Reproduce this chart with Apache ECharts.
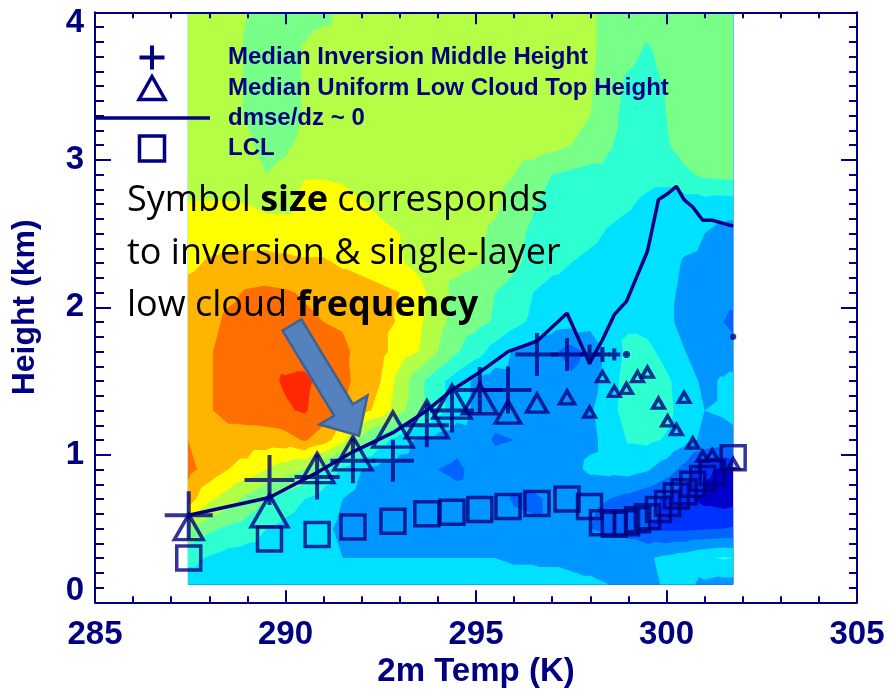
<!DOCTYPE html>
<html>
<head>
<meta charset="utf-8">
<script src="https://cdn.jsdelivr.net/npm/echarts@6/dist/echarts.min.js"></script>
<style>
  html, body { margin: 0; padding: 0; background: #ffffff; }
  #chart { width: 889px; height: 693px; }
</style>
</head>
<body>
<div id="chart"></div>
<script>
// ---------------------------------------------------------------------------
// Median profile statistics, binned by 2 m temperature (K)
// ---------------------------------------------------------------------------
const tempBins = [287.46, 289.58, 290.83, 291.77, 292.82, 293.71, 294.37, 295.10, 295.84, 296.60,
                  297.39, 297.98, 298.32, 298.63, 298.95, 299.24, 299.50, 299.79, 300.03, 300.26,
                  300.46, 300.69, 300.95, 301.20, 301.75];

// median inversion middle height (km) and inversion frequency (%)
const invHeight = [0.59, 0.83, 0.85, 0.96, 0.96, 1.20, 1.30, 1.44, 1.44, 1.68,
                   1.68, 1.68, 1.68, 1.68, 1.68, null, null, null, null, null,
                   null, null, null, null, 1.80];
const invFreq   = [43, 45, 40, 40, 37, 39, 39, 41, 42, 38,
                   28, 15, 10, 7, 2, null, null, null, null, null,
                   null, null, null, null, 1];

// median uniform (single-layer) low cloud top height (km) and its frequency (%)
const cloudTop  = [0.51, 0.62, 0.91, 1.01, 1.17, 1.24, 1.36, 1.38, 1.29, 1.35,
                   1.39, 1.29, 1.53, 1.43, 1.45, 1.53, 1.56, 1.35, 1.23, 1.17,
                   1.39, 1.08, 0.99, 1.00, 0.94];
const cloudFreq = [20, 27, 24, 28, 30, 32, 28, 25, 17, 13,
                   8, 5, 5, 5, 5, 5, 5, 5, 5, 5,
                   5, 5, 5, 5, 5];

// height where dmse/dz ~ 0 (km)
const dmseZero  = [0.59, 0.71, 0.88, 1.02, 1.15, 1.30, 1.44, 1.56, 1.70, 1.77,
                   1.96, 1.62, 1.78, 1.95, 2.04, 2.22, 2.38, 2.73, 2.77, 2.82,
                   2.73, 2.68, 2.59, 2.59, 2.55];

// lifting condensation level (km)
const lclHeight = [0.30, 0.43, 0.46, 0.51, 0.55, 0.60, 0.61, 0.63, 0.65, 0.67,
                   0.70, 0.65, 0.54, 0.53, 0.54, 0.56, 0.58, 0.63, 0.67, 0.72,
                   0.75, 0.80, 0.84, 0.88, 0.98];

// ---------------------------------------------------------------------------
// Background field (contour level index) on a temperature x height grid
// ---------------------------------------------------------------------------
const gridTemp = [287.44, 288.0, 288.5, 289.0, 289.5, 290.0, 290.5, 291.0, 291.5, 292.0,
                  292.5, 293.0, 293.5, 294.0, 294.5, 295.0, 295.5, 296.0, 296.5, 297.0,
                  297.5, 298.0, 298.5, 299.0, 299.5, 300.0, 300.5, 301.0, 301.5, 301.75];
const gridHeight = [4.0, 3.75, 3.5, 3.3, 3.1, 2.9, 2.7, 2.5, 2.3, 2.1,
                    1.9, 1.7, 1.5, 1.3, 1.1, 0.9, 0.7, 0.5, 0.3, 0.12];
const fieldLevels = [
  [7.5, 7.5, 7.3, 7.0, 6.5, 6.5, 6.5, 6.7, 7.3, 7.5, 7.5, 7.5, 7.5, 7.5, 7.5, 7.5, 7.5, 7.5, 7.5, 7.5, 7.4, 7.2, 6.6, 6.5, 6.5, 6.5, 6.6, 6.7, 6.5, 6.5],
  [7.5, 7.5, 7.3, 6.9, 6.5, 6.5, 7.1, 7.5, 7.5, 7.5, 7.5, 7.5, 7.5, 7.5, 7.5, 7.5, 7.5, 7.5, 7.5, 7.5, 7.4, 7.2, 6.6, 6.3, 5.9, 6.3, 6.6, 6.7, 6.5, 6.5],
  [7.5, 7.5, 7.3, 6.9, 6.5, 6.5, 7.1, 7.5, 7.5, 7.5, 7.5, 7.5, 7.5, 7.5, 7.5, 7.5, 7.5, 7.5, 7.5, 7.5, 7.4, 7.1, 6.5, 5.8, 5.5, 6.1, 6.6, 6.7, 6.5, 6.5],
  [7.5, 7.5, 7.3, 6.9, 6.4, 6.5, 7.1, 7.5, 7.5, 7.5, 7.5, 7.5, 7.5, 7.5, 7.5, 7.5, 7.5, 7.5, 7.5, 7.5, 7.3, 7.0, 6.4, 5.6, 5.5, 6.0, 6.6, 6.7, 6.5, 6.5],
  [7.5, 7.5, 7.4, 7.2, 6.6, 6.8, 7.3, 7.5, 7.5, 7.5, 7.5, 7.5, 7.5, 7.5, 7.5, 7.5, 7.5, 7.5, 7.5, 7.3, 7.0, 6.7, 6.1, 5.5, 5.5, 5.9, 6.5, 6.6, 6.5, 6.5],
  [7.6, 7.6, 7.6, 7.4, 7.0, 7.3, 7.9, 7.9, 7.8, 7.6, 7.5, 7.5, 7.5, 7.5, 7.5, 7.4, 7.3, 7.0, 6.5, 6.0, 5.8, 5.6, 5.6, 5.5, 5.3, 5.3, 5.8, 6.2, 6.3, 6.3],
  [8.05, 8.05, 8.05, 8.0, 7.7, 7.7, 8.4, 8.5, 8.4, 8.1, 7.8, 7.6, 7.5, 7.5, 7.5, 7.4, 7.2, 6.6, 6.1, 5.6, 5.5, 5.5, 5.3, 5.1, 4.8, 4.6, 4.6, 4.6, 4.5, 4.5],
  [8.5, 8.6, 8.6, 8.6, 8.6, 8.6, 8.6, 8.6, 8.5, 8.4, 8.2, 8.0, 7.6, 7.5, 7.4, 7.2, 6.8, 6.3, 5.8, 5.5, 5.4, 5.2, 4.9, 4.7, 4.5, 4.5, 4.3, 4.0, 3.7, 3.6],
  [8.8, 9.1, 9.2, 9.3, 9.3, 9.2, 9.1, 9.1, 8.9, 8.7, 8.5, 8.1, 7.7, 7.4, 7.3, 7.1, 6.7, 6.2, 5.7, 5.3, 5.0, 4.8, 4.6, 4.5, 4.4, 4.3, 3.9, 3.8, 3.5, 3.5],
  [9.3, 9.5, 9.8, 10.1, 10.2, 10.1, 9.9, 9.6, 9.4, 9.4, 9.2, 9.0, 8.4, 7.4, 6.7, 6.4, 6.0, 5.6, 5.0, 4.6, 4.5, 4.4, 4.3, 4.4, 4.4, 4.2, 3.8, 3.6, 3.3, 3.3],
  [9.4, 9.7, 10.2, 10.4, 10.5, 10.4, 10.2, 10.0, 9.9, 9.6, 9.3, 8.9, 8.2, 7.3, 6.6, 6.3, 5.9, 5.3, 4.8, 4.5, 4.4, 4.3, 4.5, 4.8, 4.6, 4.2, 3.7, 3.4, 3.0, 2.8],
  [9.5, 9.9, 10.4, 10.6, 10.7, 10.6, 10.6, 10.5, 10.2, 9.7, 9.3, 8.5, 8.0, 7.0, 6.1, 5.4, 4.6, 3.9, 3.5, 3.2, 2.6, 3.3, 4.3, 5.3, 5.3, 4.6, 4.0, 3.5, 3.4, 3.3],
  [9.6, 9.9, 10.4, 10.6, 10.8, 11.1, 11.2, 10.7, 10.3, 9.6, 9.0, 7.6, 6.3, 5.3, 4.5, 3.8, 3.5, 3.6, 3.5, 3.3, 3.2, 3.6, 4.5, 5.5, 5.6, 5.2, 4.4, 3.8, 4.1, 4.3],
  [9.6, 9.9, 10.4, 10.5, 10.6, 10.9, 11.1, 10.5, 10.1, 9.3, 8.7, 7.3, 6.3, 5.3, 4.5, 3.8, 3.3, 3.1, 3.3, 3.5, 3.6, 3.9, 4.6, 5.5, 5.6, 5.3, 4.5, 4.0, 4.1, 4.2],
  [10.0, 9.7, 9.5, 9.5, 9.5, 9.6, 10.1, 9.5, 8.3, 6.6, 5.4, 4.5, 3.8, 3.6, 3.3, 3.5, 2.9, 3.0, 3.5, 3.5, 3.6, 3.8, 4.3, 5.1, 5.2, 4.9, 4.3, 3.8, 3.7, 3.8],
  [10.3, 9.6, 9.0, 8.7, 8.0, 7.5, 7.0, 5.8, 4.8, 4.0, 3.6, 3.5, 3.4, 3.0, 2.8, 3.3, 3.4, 3.5, 3.6, 3.6, 3.7, 4.2, 4.3, 4.4, 4.1, 3.5, 2.6, 1.2, 0.8, 1.0],
  [9.5, 8.2, 7.5, 6.7, 6.0, 5.5, 5.0, 4.5, 4.0, 3.6, 3.5, 3.0, 3.5, 3.4, 3.3, 3.4, 3.4, 2.9, 2.8, 3.2, 3.3, 3.1, 3.0, 2.7, 2.3, 1.8, 1.2, 0.7, 0.5, 0.6],
  [6.8, 6.2, 5.8, 5.5, 5.0, 4.7, 4.4, 4.2, 3.8, 3.6, 3.5, 3.5, 3.5, 3.5, 3.5, 3.5, 3.4, 3.3, 3.2, 3.2, 3.2, 3.0, 2.8, 2.5, 2.0, 1.8, 1.8, 1.9, 2.0, 2.1],
  [5.3, 4.9, 4.6, 4.5, 4.4, 4.3, 4.1, 4.0, 4.0, 4.0, 4.0, 4.0, 4.0, 4.0, 4.0, 4.0, 4.0, 3.9, 3.9, 3.9, 3.8, 3.8, 3.8, 3.9, 3.9, 4.2, 4.5, 4.9, 5.1, 5.0],
  [4.4, 4.4, 4.4, 4.4, 4.4, 4.4, 4.3, 4.3, 4.3, 4.3, 4.3, 4.3, 4.3, 4.3, 4.3, 4.3, 4.3, 4.3, 4.3, 4.2, 4.2, 4.1, 4.0, 3.9, 3.8, 4.1, 4.2, 3.8, 3.6, 3.6]
];
const levelColors = ['#0000cd', '#0032ff', '#0064ff', '#0096ff', '#00e1ff', '#2dffd2',
                     '#78ff87', '#b4ff46', '#ffff00', '#ffb400', '#ff6e00', '#ff2800'];

const legendNames = ['Median Inversion Middle Height', 'Median Uniform Low Cloud Top Height',
                     'dmse/dz ~ 0', 'LCL'];

// ---------------------------------------------------------------------------
const NAVY = '#000080';
const AXIS_FONT = 'Liberation Sans';

const chart = echarts.init(document.getElementById('chart'), null, { renderer: 'canvas' });

// keep the part of a polygon ([x, y, value] vertices) where value >= t
function clipAbove(poly, t) {
  const out = [];
  for (let i = 0; i < poly.length; i++) {
    const p = poly[i], q = poly[(i + 1) % poly.length];
    const pin = p[2] >= t, qin = q[2] >= t;
    if (pin) out.push(p);
    if (pin !== qin) {
      const s = (t - p[2]) / (q[2] - p[2]);
      out.push([p[0] + s * (q[0] - p[0]), p[1] + s * (q[1] - p[1]), t]);
    }
  }
  return out;
}

// filled contours: each level is painted as the region above its threshold,
// stacked from the lowest level upwards
function renderContours(params, api) {
  const pts = fieldLevels.map((row, j) => row.map((v, i) => {
    const c = api.coord([gridTemp[i], gridHeight[j]]);
    return [c[0], c[1], v];
  }));
  const paths = levelColors.map(() => []);
  for (let j = 0; j < pts.length - 1; j++) {
    for (let i = 0; i < pts[j].length - 1; i++) {
      const a = pts[j][i], b = pts[j][i + 1], c = pts[j + 1][i + 1], d = pts[j + 1][i];
      [[a, b, c], [a, c, d]].forEach(tri => {
        for (let k = 0; k < levelColors.length; k++) {
          const poly = k === 0 ? tri : clipAbove(tri, k);
          if (poly.length < 3) break;
          paths[k].push('M' + poly.map(p => p[0].toFixed(2) + ' ' + p[1].toFixed(2)).join('L') + 'Z');
        }
      });
    }
  }
  return {
    type: 'group',
    children: paths.map((segs, k) => ({
      type: 'path',
      shape: { pathData: segs.join('') },
      style: { fill: levelColors[k], stroke: null },
      silent: true
    }))
  };
}

function axisParts(tickLen, minorLen, minorSplit) {
  return {
    axisLine: { show: true, onZero: false, lineStyle: { color: NAVY, width: 2 } },
    axisTick: { show: true, inside: true, length: tickLen, lineStyle: { color: NAVY, width: 2 } },
    minorTick: { show: true, splitNumber: minorSplit, length: minorLen, lineStyle: { color: NAVY, width: 2 } },
    splitLine: { show: false },
    minorSplitLine: { show: false }
  };
}

const labelFont = { color: NAVY, fontFamily: AXIS_FONT, fontWeight: 'bold', fontSize: 33 };

const PLUS = 'path://M0,5L10,5M5,0L5,10';

const option = {
  animation: false,
  backgroundColor: '#ffffff',
  grid: { left: 95, right: 32, top: 12.3, bottom: 90.7, outerBoundsMode: 'none' },
  xAxis: [
    Object.assign({
      type: 'value', position: 'bottom', min: 285, max: 305, interval: 5, z: 10,
      name: '2m Temp (K)', nameLocation: 'middle', nameGap: 53, nameMoveOverlap: false,
      nameTextStyle: { color: NAVY, fontFamily: AXIS_FONT, fontWeight: 'bold', fontSize: 33 },
      axisLabel: Object.assign({ margin: 16, showMinLabel: true, showMaxLabel: true }, labelFont)
    }, axisParts(12, 6, 5)),
    Object.assign({
      type: 'value', position: 'top', min: 285, max: 305, interval: 5, z: 10,
      axisLabel: { show: false }
    }, axisParts(12, 6, 5))
  ],
  yAxis: [
    Object.assign({
      type: 'value', position: 'left', min: 0, max: 4, interval: 1, z: 10,
      name: 'Height (km)', nameLocation: 'middle', nameGap: 54, nameRotate: 90, nameMoveOverlap: false,
      nameTextStyle: { color: NAVY, fontFamily: AXIS_FONT, fontWeight: 'bold', fontSize: 32 },
      axisLabel: Object.assign({
        margin: 11, showMinLabel: true, showMaxLabel: true,
        formatter: v => v === 4 ? '{top|4}' : (v === 0 ? '{bot|0}' : '{mid|' + v + '}'),
        rich: {
          top: Object.assign({ padding: [22, 0, 0, 0] }, labelFont),
          bot: Object.assign({ padding: [0, 0, 22, 0] }, labelFont),
          mid: Object.assign({}, labelFont)
        }
      }, labelFont)
    }, axisParts(16, 9, 10)),
    Object.assign({
      type: 'value', position: 'right', min: 0, max: 4, interval: 1, z: 10,
      axisLabel: { show: false }
    }, axisParts(16, 8, 10))
  ],
  series: [
    {
      type: 'custom', coordinateSystem: 'cartesian2d', xAxisIndex: 0, yAxisIndex: 0,
      data: [[gridTemp[0], gridHeight[0]]], renderItem: renderContours, silent: true, z: 1, clip: false
    },
    {
      name: legendNames[2], type: 'line', xAxisIndex: 0, yAxisIndex: 0,
      data: tempBins.map((t, i) => [t, dmseZero[i]]),
      symbol: 'none', lineStyle: { color: NAVY, width: 3.5 }, itemStyle: { color: NAVY },
      z: 4, silent: true
    },
    {
      name: legendNames[0], type: 'scatter', xAxisIndex: 0, yAxisIndex: 0,
      data: tempBins.map((t, i) => invHeight[i] == null ? null : [t, invHeight[i], invFreq[i]]).filter(Boolean),
      symbol: PLUS, symbolKeepAspect: true,
      symbolSize: v => 5 + v[2],
      itemStyle: { color: 'rgba(0,0,0,0)', borderColor: NAVY, borderWidth: 4 },
      z: 5, silent: true
    },
    {
      name: legendNames[1], type: 'scatter', xAxisIndex: 0, yAxisIndex: 0,
      data: tempBins.map((t, i) => [t, cloudTop[i], cloudFreq[i]]),
      symbol: 'triangle',
      symbolSize: v => [(5 + v[2]) * 1.15, 5 + v[2]],
      itemStyle: { color: 'rgba(0,0,0,0)', borderColor: NAVY, borderWidth: 3.5 },
      z: 5, silent: true
    },
    {
      name: legendNames[3], type: 'scatter', xAxisIndex: 0, yAxisIndex: 0,
      data: tempBins.map((t, i) => [t, lclHeight[i]]),
      symbol: 'rect', symbolSize: 24,
      itemStyle: { color: 'rgba(0,0,0,0)', borderColor: NAVY, borderWidth: 3.5 },
      z: 5, silent: true
    }
  ]
};

chart.setOption(option);

// annotation: explanatory note and block arrow (endpoints in data units)
const ARROW_FROM = [290.17, 1.88];
const ARROW_TO = [291.93, 1.13];
const tail = chart.convertToPixel({ gridIndex: 0 }, ARROW_FROM);
const tip = chart.convertToPixel({ gridIndex: 0 }, ARROW_TO);
const dx = tip[0] - tail[0], dy = tip[1] - tail[1];
const len = Math.hypot(dx, dy);
const ux = dx / len, uy = dy / len, nx = -uy, ny = ux;
const shaftHalf = 11, headHalf = 28, headLen = 30;
const hb = [tip[0] - ux * headLen, tip[1] - uy * headLen];
const arrowPts = [
  [tail[0] + nx * shaftHalf, tail[1] + ny * shaftHalf],
  [hb[0] + nx * shaftHalf, hb[1] + ny * shaftHalf],
  [hb[0] + nx * headHalf, hb[1] + ny * headHalf],
  tip,
  [hb[0] - nx * headHalf, hb[1] - ny * headHalf],
  [hb[0] - nx * shaftHalf, hb[1] - ny * shaftHalf],
  [tail[0] - nx * shaftHalf, tail[1] - ny * shaftHalf]
];

// legend block in the upper-left corner of the plot
const legendX = 152, legendTextX = 228, legendRows = [57.5, 88, 118, 148.5];
const legendStroke = { stroke: NAVY, fill: null, lineWidth: 3.5 };
const legendGraphics = [
  { type: 'polyline', shape: { points: [[legendX - 12.5, legendRows[0]], [legendX + 12.5, legendRows[0]]] }, style: Object.assign({}, legendStroke, { lineWidth: 4 }) },
  { type: 'polyline', shape: { points: [[legendX, legendRows[0] - 12], [legendX, legendRows[0] + 12]] }, style: Object.assign({}, legendStroke, { lineWidth: 4 }) },
  { type: 'polygon', shape: { points: [[legendX, legendRows[1] - 11.5], [legendX + 13, legendRows[1] + 11.5], [legendX - 13, legendRows[1] + 11.5]] }, style: legendStroke },
  { type: 'polyline', shape: { points: [[95, legendRows[2]], [210, legendRows[2]]] }, style: legendStroke },
  { type: 'rect', shape: { x: legendX - 12.5, y: legendRows[3] - 12.5, width: 25, height: 25 }, style: legendStroke }
].concat(legendNames.map((name, i) => ({
  type: 'text', x: legendTextX, y: legendRows[i],
  style: { text: name, fill: NAVY, fontFamily: AXIS_FONT, fontWeight: 'bold', fontSize: 24, verticalAlign: 'middle', align: 'left' }
}))).map(g => Object.assign({ z: 40, silent: true }, g));

const noteStyle = { fontFamily: 'Open Sans', fontSize: 36, lineHeight: 52.5, fill: '#000000' };

chart.setOption({
  graphic: legendGraphics.concat([
    {
      type: 'text', left: 127, top: 183, z: 50, silent: true,
      style: {
        text: '{n|Symbol }{b|size}{n| corresponds}\n{n|to inversion & single-layer}\n{n|low cloud }{b|frequency}',
        rich: {
          n: Object.assign({ fontWeight: 'normal' }, noteStyle),
          b: Object.assign({ fontWeight: 'bold' }, noteStyle)
        }
      }
    },
    {
      type: 'polygon', z: 60, silent: true,
      shape: { points: arrowPts },
      style: { fill: '#5582be', stroke: '#3d6393', lineWidth: 2.5 }
    }
  ])
});
</script>
</body>
</html>
